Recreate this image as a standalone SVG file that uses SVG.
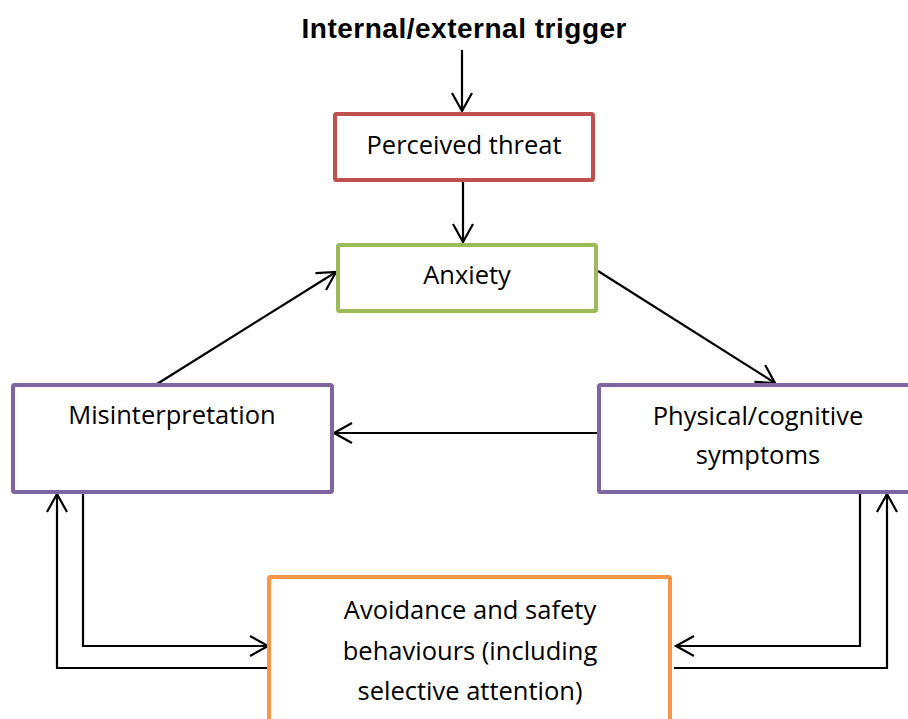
<svg xmlns="http://www.w3.org/2000/svg" width="908" height="719" viewBox="0 0 908 719">
<style>
.box{fill:#fff;stroke-width:4}
.t{font-family:"Open Sans","Liberation Sans",sans-serif;font-size:25.5px;fill:#000;text-anchor:middle}
.c{fill:none;stroke:#000;stroke-width:2.2}
</style>
<defs>
<marker id="a" markerUnits="userSpaceOnUse" markerWidth="24" markerHeight="24" viewBox="-20 -12 24 24" refX="0" refY="0" orient="auto">
<path d="M-18,-10 L0,0 L-18,10" fill="none" stroke="#000" stroke-width="2.2"/>
</marker>
</defs>
<rect width="908" height="719" fill="#fff"/>
<text id="trigger" x="464" y="37.5" font-family="Liberation Sans,Arial,sans-serif" font-weight="bold" font-size="28" text-anchor="middle" textLength="325" lengthAdjust="spacing">Internal/external trigger</text>
<g id="connectors">
<line class="c" x1="462" y1="50" x2="462" y2="111" marker-end="url(#a)"/>
<line class="c" x1="463" y1="181" x2="463" y2="242" marker-end="url(#a)"/>
<line class="c" x1="598" y1="271" x2="775" y2="383" marker-end="url(#a)"/>
<line class="c" x1="157" y1="384" x2="336" y2="272" marker-end="url(#a)"/>
<line class="c" x1="597" y1="433" x2="334" y2="433" marker-end="url(#a)"/>
<polyline class="c" points="83,494 83,646 268,646" marker-end="url(#a)"/>
<polyline class="c" points="268,668 57,668 57,494" marker-end="url(#a)"/>
<polyline class="c" points="860,494 860,646 676,646" marker-end="url(#a)"/>
<polyline class="c" points="674,668 887,668 887,494" marker-end="url(#a)"/>
</g>
<g id="perceived">
<rect class="box" x="335" y="114" width="258" height="66" rx="1.5" stroke="#C0504D"/>
<text class="t" x="464" y="154">Perceived threat</text>
</g>
<g id="anxiety">
<rect class="box" x="338" y="245" width="258" height="66" rx="1.5" stroke="#9BBB59"/>
<text class="t" x="467" y="284">Anxiety</text>
</g>
<g id="misinterpretation">
<rect class="box" x="13" y="385" width="319" height="107" rx="1.5" stroke="#8064A2"/>
<text class="t" x="172" y="424">Misinterpretation</text>
</g>
<g id="symptoms">
<rect class="box" x="599" y="385" width="320" height="107" rx="1.5" stroke="#8064A2"/>
<text class="t" x="758" y="425">Physical/cognitive</text>
<text class="t" x="758" y="464">symptoms</text>
</g>
<g id="avoidance">
<rect class="box" x="269" y="577" width="401" height="160" rx="1.5" stroke="#F79646"/>
<text class="t" x="470" y="619">Avoidance and safety</text>
<text class="t" x="470" y="660">behaviours (including</text>
<text class="t" x="470" y="700">selective attention)</text>
</g>
</svg>
